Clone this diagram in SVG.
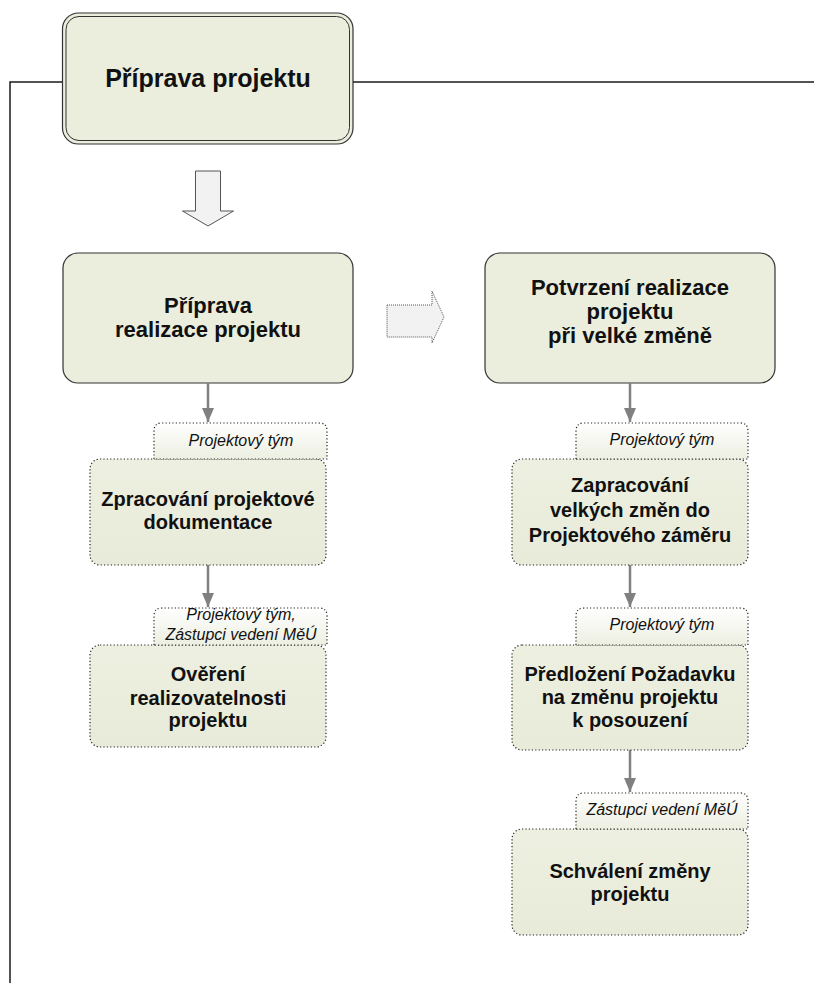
<svg xmlns="http://www.w3.org/2000/svg" width="814" height="983" viewBox="0 0 814 983">
<defs>
<linearGradient id="gBox" x1="0" y1="0" x2="0" y2="1">
<stop offset="0" stop-color="#EDF0E0"/>
<stop offset="1" stop-color="#E8EBD9"/>
</linearGradient>
<linearGradient id="gLab" x1="0" y1="0" x2="0" y2="1">
<stop offset="0" stop-color="#FFFFFF"/>
<stop offset="1" stop-color="#ECEFE1"/>
</linearGradient>
<marker id="ah" markerUnits="userSpaceOnUse" markerWidth="14" markerHeight="12" refX="14" refY="6" orient="auto">
<path d="M0,0 L14,6 L0,12 z" fill="#808080"/>
</marker>
</defs>
<style>
.frame{stroke:#1a1a1a;stroke-width:1.5;fill:none}
.big{fill:#EBEEDD;stroke:#333;stroke-width:1.2}
.det{fill:url(#gBox);stroke:#222;stroke-width:1.2;stroke-dasharray:1.2 2.2}
.lab{fill:url(#gLab);stroke:#222;stroke-width:1.2;stroke-dasharray:1.2 2.2}
.conn{stroke:#808080;stroke-width:2.5;fill:none;marker-end:url(#ah)}
.t{font-family:"Liberation Sans",Arial,sans-serif;font-weight:bold;fill:#111;text-anchor:middle}
.t22{font-size:22px}
.t20{font-size:20px}
.it{font-family:"Liberation Sans",Arial,sans-serif;font-style:italic;font-size:16px;fill:#111;text-anchor:middle}
</style>
<rect width="814" height="983" fill="#fff"/>
<g id="frame">
<path class="frame" d="M62,82 H10 V983"/>
<path class="frame" d="M353,82 H814"/>
</g>
<g id="n-top">
<rect x="62.5" y="13" width="290.5" height="131" rx="16" fill="#EBEEDD" stroke="#333" stroke-width="1.2"/>
<rect x="66" y="16.5" width="283.5" height="124" rx="13" fill="none" stroke="#333" stroke-width="1"/>
<text class="t" x="208" y="87" font-size="25">Příprava projektu</text>
</g>
<g id="arrow-down">
<path d="M195.5,171 H220.5 V211 H233.5 L208,226 L182.5,211 H195.5 Z" fill="#F2F2F2" stroke="#555" stroke-width="1"/>
</g>
<g id="arrow-right">
<path d="M387,305 H432 V291 L444,317 L432,343 V337 H387 Z" fill="#F2F2F2" stroke="#555" stroke-width="1" stroke-dasharray="1 1"/>
</g>
<g id="n-priprava">
<rect class="big" x="63" y="253" width="290" height="130" rx="15"/>
<text class="t t22" x="208" y="313">Příprava</text>
<text class="t t22" x="208" y="337">realizace projektu</text>
</g>
<g id="n-potvrzeni">
<rect class="big" x="485" y="253" width="290" height="130" rx="15"/>
<text class="t t22" x="630" y="295">Potvrzení realizace</text>
<text class="t t22" x="630" y="319">projektu</text>
<text class="t t22" x="630" y="343">při velké změně</text>
</g>
<g id="connectors">
<line class="conn" x1="208" y1="383" x2="208" y2="422"/>
<line class="conn" x1="208" y1="565" x2="208" y2="607"/>
<line class="conn" x1="630" y1="383" x2="630" y2="422"/>
<line class="conn" x1="630" y1="565" x2="630" y2="607"/>
<line class="conn" x1="630" y1="750" x2="630" y2="792"/>
</g>
<g id="n-zpracovani">
<rect class="det" x="90" y="459" width="236" height="106" rx="10"/>
<path class="lab" d="M154,459 V431 Q154,423 162,423 H319 Q327,423 327,431 V459 Z"/>
<text class="it" x="241" y="446">Projektový tým</text>
<text class="t t20" x="208" y="506">Zpracování projektové</text>
<text class="t t20" x="208" y="529">dokumentace</text>
</g>
<g id="n-overeni">
<rect class="det" x="90" y="645" width="236" height="102" rx="10"/>
<path class="lab" d="M154,645 V616 Q154,608 162,608 H319 Q327,608 327,616 V645 Z"/>
<text class="it" x="241" y="620">Projektový tým,</text>
<text class="it" x="241" y="640">Zástupci vedení MěÚ</text>
<text class="t t20" x="208" y="681">Ověření</text>
<text class="t t20" x="208" y="705">realizovatelnosti</text>
<text class="t t20" x="208" y="727">projektu</text>
</g>
<g id="n-zapracovani">
<rect class="det" x="512" y="459" width="236" height="106" rx="10"/>
<path class="lab" d="M576,459 V431 Q576,423 584,423 H740 Q748,423 748,431 V459 Z"/>
<text class="it" x="662" y="445">Projektový tým</text>
<text class="t t20" x="630" y="492">Zapracování</text>
<text class="t t20" x="630" y="517">velkých změn do</text>
<text class="t t20" x="630" y="542">Projektového záměru</text>
</g>
<g id="n-predlozeni">
<rect class="det" x="512" y="645" width="236" height="105" rx="10"/>
<path class="lab" d="M576,645 V616 Q576,608 584,608 H740 Q748,608 748,616 V645 Z"/>
<text class="it" x="662" y="630">Projektový tým</text>
<text class="t t20" x="630" y="681">Předložení Požadavku</text>
<text class="t t20" x="630" y="704">na změnu projektu</text>
<text class="t t20" x="630" y="727">k posouzení</text>
</g>
<g id="n-schvaleni">
<rect class="det" x="512" y="829" width="236" height="106" rx="10"/>
<path class="lab" d="M576,829 V801 Q576,793 584,793 H740 Q748,793 748,801 V829 Z"/>
<text class="it" x="662" y="815">Zástupci vedení MěÚ</text>
<text class="t t20" x="630" y="878">Schválení změny</text>
<text class="t t20" x="630" y="901">projektu</text>
</g>
</svg>
